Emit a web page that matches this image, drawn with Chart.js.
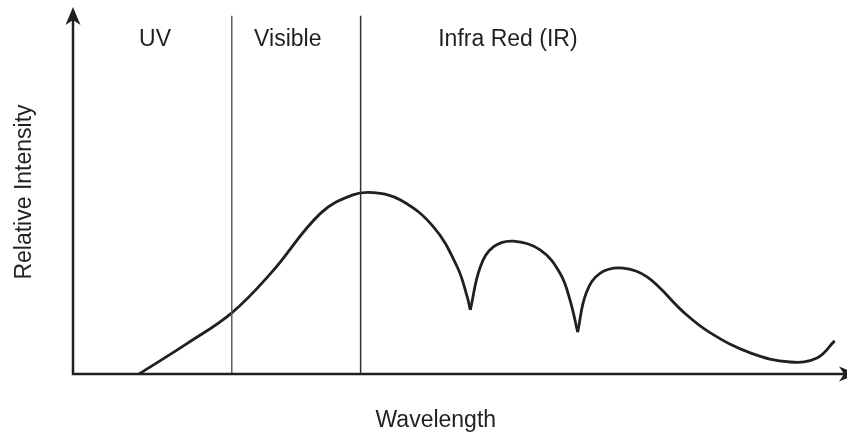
<!DOCTYPE html>
<html>
<head>
<meta charset="utf-8">
<script src="https://cdn.jsdelivr.net/npm/chart.js@4.4.0/dist/chart.umd.min.js"></script>
<style>
  html, body { margin: 0; padding: 0; background: #ffffff; }
  #wrap { width: 847px; height: 432px; position: relative; }
</style>
</head>
<body>
<div id="wrap"><canvas id="spectre"></canvas></div>
<script>
// Spectre - données (unités arbitraires 0-100)
var wavelength = [8.6, 14.9, 20.7, 25.8, 32.3, 36.5, 39.2, 42.7, 47.0, 50.1, 51.4, 51.8,
                  53.1, 54.8, 57.4, 60.9, 63.5, 64.8, 65.8,
                  66.9, 68.75, 71.7, 74.9, 79.6, 83.1, 88.3, 93.5, 97.0, 99.3];
var intensity  = [0, 8.4, 16.8, 27.7, 44.2, 49.2, 49.8, 47.8, 40.4, 29.4, 21.2, 17.6,
                  29.4, 34.9, 36.5, 34.1, 27.7, 20.3, 11.5,
                  22.2, 27.7, 29.1, 26.6, 17.0, 11.3, 5.8, 3.3, 4.4, 9.1];
var dips = [11, 18];                 // index des creux d'absorption
var regionNames = ['UV', 'Visible', 'Infra Red (IR)'];
var regionLabelX = [10.7, 28.0, 56.7];
var boundaries = [20.7, 37.5];
var boundaryTop = 98.4;
var xTitle = 'Wavelength';
var yTitle = 'Relative Intensity';
var xTitlePos = 47.3;

var ink = '#231f20';
var font = '"Liberation Sans", Arial, Helvetica, sans-serif';

function points(from, to) {
    var pts = [];
    for (var i = from; i <= to; i++) {
        pts.push({ x: wavelength[i], y: intensity[i] });
    }
    return pts;
}

function curveDataset(pts) {
    return {
        data: pts,
        borderColor: ink,
        borderWidth: 2.8,
        pointRadius: 0,
        fill: false,
        tension: 0.4
    };
}

var datasets = [
    curveDataset(points(0, dips[0])),
    curveDataset(points(dips[0], dips[1])),
    curveDataset(points(dips[1], wavelength.length - 1))
];
var boundaryColors = ['#5e5e5e', '#333333'];
boundaries.forEach(function (b, i) {
    datasets.unshift({
        data: [{ x: b, y: 0 }, { x: b, y: boundaryTop }],
        borderColor: boundaryColors[i],
        borderWidth: 1.5,
        pointRadius: 0,
        tension: 0,
        fill: false
    });
});

function arrowHead(ctx, tipX, tipY, dirX, dirY) {
    var len = 18, half = 7.5, notch = 5;
    var px = -dirY, py = dirX;
    ctx.beginPath();
    ctx.moveTo(tipX, tipY);
    ctx.lineTo(tipX - dirX * len + px * half, tipY - dirY * len + py * half);
    ctx.lineTo(tipX - dirX * (len - notch), tipY - dirY * (len - notch));
    ctx.lineTo(tipX - dirX * len - px * half, tipY - dirY * len - py * half);
    ctx.closePath();
    ctx.fill();
}

var axesAndLabels = {
    id: 'axesAndLabels',
    afterDatasetsDraw: function (chart) {
        var ctx = chart.ctx;
        var a = chart.chartArea;
        var xs = chart.scales.x;
        ctx.save();
        ctx.strokeStyle = ink;
        ctx.fillStyle = ink;
        ctx.lineWidth = 2.5;
        ctx.beginPath();
        ctx.moveTo(a.left, 14);
        ctx.lineTo(a.left, a.bottom);
        ctx.lineTo(845, a.bottom);
        ctx.stroke();
        arrowHead(ctx, a.left, 7, 0, -1);
        arrowHead(ctx, 857, a.bottom, 1, 0);

        ctx.font = '23px ' + font;
        ctx.textAlign = 'center';
        ctx.textBaseline = 'alphabetic';
        regionNames.forEach(function (name, i) {
            ctx.fillText(name, xs.getPixelForValue(regionLabelX[i]), a.top + 36);
        });
        ctx.fillText(xTitle, xs.getPixelForValue(xTitlePos), 427);

        ctx.translate(31, (a.top + a.bottom) / 2);
        ctx.rotate(-Math.PI / 2);
        ctx.fillText(yTitle, 0, 0);
        ctx.restore();
    }
};

var ctx = document.getElementById('spectre').getContext('2d');
var chart = new Chart(ctx, {
    type: 'line',
    data: { datasets: datasets },
    options: {
        responsive: true,
        maintainAspectRatio: false,
        animation: false,
        layout: { padding: { left: 73, right: 7, top: 10, bottom: 58 } },
        scales: {
            x: { type: 'linear', min: 0, max: 100, display: false },
            y: { type: 'linear', min: 0, max: 100, display: false }
        },
        plugins: {
            legend: { display: false },
            tooltip: { enabled: false }
        }
    },
    plugins: [axesAndLabels]
});
</script>
</body>
</html>
